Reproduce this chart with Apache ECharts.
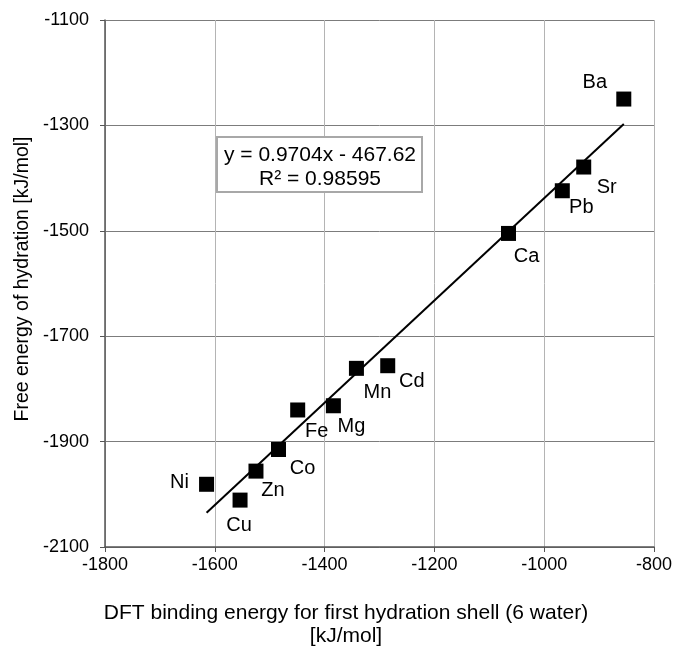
<!DOCTYPE html>
<html>
<head>
<meta charset="utf-8">
<script src="https://cdn.jsdelivr.net/npm/echarts@6/dist/echarts.min.js"></script>
<style>
html,body{margin:0;padding:0;background:#fff;}
#c{width:675px;height:648px;}
</style>
</head>
<body>
<div id="c"></div>
<script>
// ---- data ----
var ions = ['Ba','Sr','Pb','Ca','Mn','Cd','Mg','Fe','Co','Zn','Ni','Cu'];
var dftBinding = [-855,-928,-967,-1065,-1342,-1285,-1384,-1449,-1484,-1525,-1615,-1554];
var freeEnergy = [-1250,-1379,-1424,-1505,-1761,-1756,-1832,-1840,-1915,-1956,-1981,-2011];
var fitSlope = 0.9704;
var fitIntercept = -467.62;
var fitR2 = 0.98595;
var xTitle = ['DFT binding energy for first hydration shell (6 water)', '[kJ/mol]'];
var yTitle = 'Free energy of hydration [kJ/mol]';

// ---- label placement (style) ----
var labelOffsets = {
  Ba:[-29,-17], Sr:[23,20], Pb:[19,17], Ca:[18,23], Mn:[21,24], Cd:[24,16],
  Mg:[18,21], Fe:[19,22], Co:[24,19], Zn:[17,19], Ni:[-27,-2], Cu:[-1,25]
};

var pts = ions.map(function(n,i){
  return {
    value:[dftBinding[i], freeEnergy[i]],
    name:n,
    label:{offset:labelOffsets[n]}
  };
});
var xMin = Math.min.apply(null, dftBinding), xMax = Math.max.apply(null, dftBinding);
var fitLine = [[xMin, fitSlope*xMin+fitIntercept],[xMax, fitSlope*xMax+fitIntercept]];

var FONT = 'Liberation Sans, Arial, sans-serif';
function plain(v){ return String(v); }
var chart = echarts.init(document.getElementById('c'), null, {renderer:'canvas'});
chart.setOption({
  animation:false,
  backgroundColor:'#fff',
  grid:{left:105, right:19, top:20, bottom:101, containLabel:false},
  xAxis:{
    type:'value', min:-1800, max:-800, interval:200,
    axisLine:{show:true, onZero:false, lineStyle:{color:'#555', width:1.5}},
    axisTick:{show:true, length:5, lineStyle:{color:'#555'}},
    axisLabel:{color:'#000', fontSize:18, fontFamily:FONT, margin:9, formatter:plain},
    splitLine:{show:true, lineStyle:{color:'#b4b4b4', width:1}}
  },
  yAxis:{
    type:'value', min:-2100, max:-1100, interval:200,
    axisLine:{show:true, onZero:false, lineStyle:{color:'#555', width:1.5}},
    axisTick:{show:true, length:5, lineStyle:{color:'#555'}},
    axisLabel:{color:'#000', fontSize:18, fontFamily:FONT, margin:16, formatter:plain},
    splitLine:{show:true, lineStyle:{color:'#7c7c7c', width:1}}
  },
  series:[
    {
      type:'line', data:fitLine, symbol:'none', silent:true,
      lineStyle:{color:'#000', width:2}, z:2
    },
    {
      type:'scatter', data:pts, symbol:'rect', symbolSize:15,
      itemStyle:{color:'#000', opacity:1}, z:3,
      label:{show:true, position:'inside', formatter:'{b}', color:'#000',
             fontSize:20, fontFamily:FONT, opacity:1}
    }
  ],
  graphic:[
    {type:'rect', shape:{x:217, y:137, width:205, height:55},
     style:{fill:'#fff', stroke:'#a8a8a8', lineWidth:2}, z:10},
    {type:'text', x:320, y:155, z:11,
     style:{text:'y = ' + fitSlope + 'x - ' + Math.abs(fitIntercept).toFixed(2), fill:'#000', fontSize:21, fontFamily:FONT, align:'center', verticalAlign:'middle'}},
    {type:'text', x:320, y:179, z:11,
     style:{text:'R² = ' + fitR2, fill:'#000', fontSize:21, fontFamily:FONT, align:'center', verticalAlign:'middle'}},
    {type:'text', x:346, y:613, z:11,
     style:{text:xTitle[0], fill:'#000', fontSize:21, fontFamily:FONT, align:'center', verticalAlign:'middle'}},
    {type:'text', x:346, y:636, z:11,
     style:{text:xTitle[1], fill:'#000', fontSize:21, fontFamily:FONT, align:'center', verticalAlign:'middle'}},
    {type:'text', x:23, y:279, rotation:Math.PI/2, z:11,
     style:{text:yTitle, fill:'#000', fontSize:19.5, fontFamily:FONT, align:'center', verticalAlign:'middle'}}
  ]
});
</script>
</body>
</html>
